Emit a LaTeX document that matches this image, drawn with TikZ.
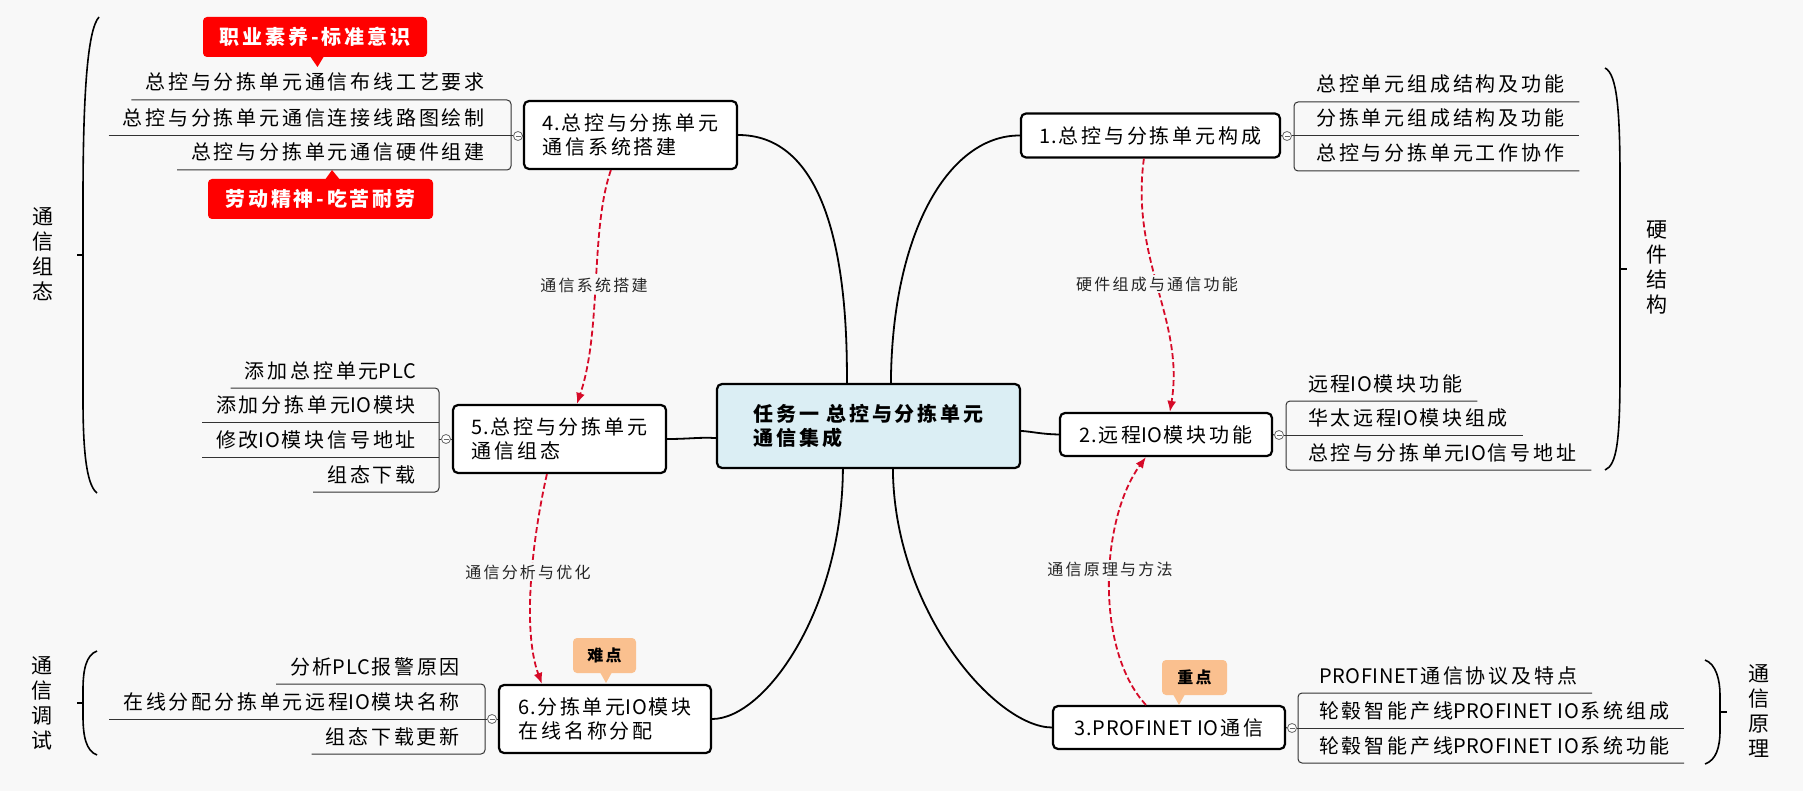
\documentclass[tikz,border=0pt]{standalone}
\usepackage{fontspec}
\setmainfont[LetterSpace=14]{Noto Sans CJK SC}
\newfontfamily\latn[LetterSpace=3]{Noto Sans CJK SC}
\newcommand{\lat}[1]{{\latn #1}\hspace{1.5pt}}
\usetikzlibrary{calc,arrows.meta}
\definecolor{bg}{RGB}{248,248,248}
\definecolor{cblue}{RGB}{219,238,244}
\definecolor{peach}{RGB}{250,192,143}
\definecolor{cred}{RGB}{255,0,0}
\definecolor{dred}{RGB}{214,10,40}
\begin{document}
\begin{tikzpicture}[x=1pt,y=-1pt,
 topic/.style={draw=black, line width=2.2pt, rounded corners=5pt, fill=white, align=left, inner sep=0pt, font=\fontsize{20}{24}\selectfont},
 leaf/.style={inner sep=0pt, font=\fontsize{20}{24}\selectfont, text=black},
 sub/.style={draw=black!80, line width=1pt},
 main/.style={draw=black, line width=1.8pt},
 dot/.style={circle, draw=black!60, fill=white, line width=0.8pt, minimum size=9pt, inner sep=0pt,
   path picture={\draw[black!60,line width=0.8pt] ([xshift=2pt]path picture bounding box.west) -- ([xshift=-2pt]path picture bounding box.east);}},
 link/.style={draw=dred, line width=1.8pt, dash pattern=on 6pt off 3pt, -{Latex[length=11pt,width=9pt]}},
 linklab/.style={fill=bg, inner sep=2pt, font=\fontsize{16}{18}\selectfont, text=black!85},
 brk/.style={draw=black, line width=1.6pt},
 vlab/.style={align=center, inner sep=0pt, font=\fontsize{21}{25}\selectfont},
 redtag/.style={fill=cred, rounded corners=4pt, text=white, font=\bfseries\fontsize{20}{24}\selectfont, inner sep=0pt},
 peachtag/.style={fill=peach, rounded corners=4pt, text=black, font=\bfseries\fontsize{16}{18}\selectfont, inner sep=0pt},
]
\useasboundingbox (0,0) rectangle (1803,791);
\fill[bg] (0,0) rectangle (1803,791);

% topics
\node[topic, minimum width=303pt, minimum height=84pt, fill=cblue, font=\bfseries\fontsize{20}{24}\selectfont] (C) at (868.5,426) {任务一 总控与分拣单元\\通信集成};
\node[topic, minimum width=213pt, minimum height=68pt] (N4) at (630.5,135) {\lat{4.}总控与分拣单元\\通信系统搭建};
\node[topic, minimum width=213pt, minimum height=68pt] (N5) at (559.5,439) {\lat{5.}总控与分拣单元\\通信组态};
\node[topic, minimum width=212pt, minimum height=68pt] (N6) at (605,719) {\lat{6.}分拣单元\lat{IO}模块\\在线名称分配};
\node[topic, minimum width=259pt, minimum height=44pt] (N1) at (1150.5,135.5) {\lat{1.}总控与分拣单元构成};
\node[topic, minimum width=212pt, minimum height=43pt] (N2) at (1166,434.5) {\lat{2.}远程\lat{IO}模块功能};
\node[topic, minimum width=232pt, minimum height=43pt] (N3) at (1169,727.5) {\lat{3.PROFINET IO}通信};

% main connectors
\draw[main] (N4.east) .. controls (815,135) and (848,230) .. ($(C.north west)+(131,0)$);
\draw[main] (N1.west) .. controls (950,135) and (892,230) .. ($(C.north west)+(175,0)$);
\draw[main] (N6.east) .. controls (765,719) and (842,610) .. ($(C.south west)+(127,0)$);
\draw[main] (N3.west) .. controls (995,727) and (894,610) .. ($(C.south west)+(177,0)$);
\draw[main] (N5.east) .. controls (690,439) and (700,437) .. ($(C.south west)+(0,-31)$);
\draw[main] (N2.west) .. controls (1040,434) and (1035,432) .. ($(C.north east)+(0,48)$);

% dots
\node[dot] (o4) at (518,136) {};
\node[dot] (o5) at (446,439) {};
\node[dot] (o6) at (492,719) {};
\node[dot] (o1) at (1287,136) {};
\node[dot] (o2) at (1279,435) {};
\node[dot] (o3) at (1292,728) {};

% N4 children
\node[leaf, anchor=base east] (a1) at (485,90) {总控与分拣单元通信布线工艺要求};
\node[leaf, anchor=base east] (a2) at (485,126) {总控与分拣单元通信连接线路图绘制};
\node[leaf, anchor=base east] (a3) at (485,160) {总控与分拣单元通信硬件组建};
\draw[sub, rounded corners=4pt] ($(a1.base west)+(-14,10)$) -- (511,100) -- (511,170) -- ($(a3.base west)+(-14,10)$);
\draw[sub] ($(a2.base west)+(-14,10)$) -- (o4.west);
\draw[sub] (o4.east) -- (N4.west);

% N5 children
\node[leaf, anchor=base east] (b1) at (416,378) {添加总控单元\lat{PLC}};
\node[leaf, anchor=base east] (b2) at (416,412) {添加分拣单元\lat{IO}模块};
\node[leaf, anchor=base east] (b3) at (416,447) {修改\lat{IO}模块信号地址};
\node[leaf, anchor=base east] (b4) at (416,482) {组态下载};
\draw[sub, rounded corners=4pt] ($(b1.base west)+(-14,10)$) -- (439,388) -- (439,492) -- ($(b4.base west)+(-14,10)$);
\draw[sub] ($(b2.base west)+(-14,10)$) -- (439,422);
\draw[sub] ($(b3.base west)+(-14,10)$) -- (439,457);
\draw[sub] (439,439) -- (o5.west);
\draw[sub] (o5.east) -- (N5.west);

% N6 children
\node[leaf, anchor=base east] (c1) at (460,674) {分析\lat{PLC}报警原因};
\node[leaf, anchor=base east] (c2) at (460,709) {在线分配分拣单元远程\lat{IO}模块名称};
\node[leaf, anchor=base east] (c3) at (460,744) {组态下载更新};
\draw[sub, rounded corners=4pt] ($(c1.base west)+(-14,10)$) -- (485,684) -- (485,754) -- ($(c3.base west)+(-14,10)$);
\draw[sub] ($(c2.base west)+(-14,10)$) -- (o6.west);
\draw[sub] (o6.east) -- (N6.west);

% N1 children
\node[leaf, anchor=base west] (d1) at (1316,92) {总控单元组成结构及功能};
\node[leaf, anchor=base west] (d2) at (1316,126) {分拣单元组成结构及功能};
\node[leaf, anchor=base west] (d3) at (1316,161) {总控与分拣单元工作协作};
\draw[sub, rounded corners=4pt] ($(d1.base east)+(15,10)$) -- (1294,102) -- (1294,171) -- ($(d3.base east)+(15,10)$);
\draw[sub] (o1.east) -- ($(d2.base east)+(15,10)$);
\draw[sub] (N1.east) -- (o1.west);

% N2 children
\node[leaf, anchor=base west] (e1) at (1308,391) {远程\lat{IO}模块功能};
\node[leaf, anchor=base west] (e2) at (1308,425) {华太远程\lat{IO}模块组成};
\node[leaf, anchor=base west] (e3) at (1308,460) {总控与分拣单元\lat{IO}信号地址};
\draw[sub, rounded corners=4pt] ($(e1.base east)+(15,10)$) -- (1286,401) -- (1286,470) -- ($(e3.base east)+(15,10)$);
\draw[sub] (o2.east) -- ($(e2.base east)+(15,10)$);
\draw[sub] (N2.east) -- (o2.west);

% N3 children
\node[leaf, anchor=base west] (f1) at (1319,683) {\lat{PROFINET}通信协议及特点};
\node[leaf, anchor=base west] (f2) at (1319,718) {轮毂智能产线\lat{PROFINET IO}系统组成};
\node[leaf, anchor=base west] (f3) at (1319,753) {轮毂智能产线\lat{PROFINET IO}系统功能};
\draw[sub, rounded corners=4pt] ($(f1.base east)+(15,10)$) -- (1298,693) -- (1298,763) -- ($(f3.base east)+(15,10)$);
\draw[sub] (o3.east) -- ($(f2.base east)+(15,10)$);
\draw[sub] (N3.east) -- (o3.west);

% brackets
\draw[brk] (99,17) .. controls (87,30) and (83,100) .. (83,200) -- (83,400) .. controls (83,460) and (88,486) .. (97,493);
\draw[brk] (77,255) -- (83,255);
\node[vlab] (L1) at (43,254) {通\\信\\组\\态};
\draw[brk] (97,651) .. controls (86,655) and (83,670) .. (83,690) -- (83,716) .. controls (83,736) and (86,751) .. (97,755);
\draw[brk] (77,703) -- (83,703);
\node[vlab] (L2) at (42,703) {通\\信\\调\\试};
\draw[brk] (1605,68) .. controls (1617,74) and (1620,110) .. (1620,180) -- (1620,370) .. controls (1620,440) and (1617,465) .. (1605,470);
\draw[brk] (1620,269) -- (1627,269);
\node[vlab] (L3) at (1657,267) {硬\\件\\结\\构};
\draw[brk] (1705,660) .. controls (1716,664) and (1720,680) .. (1720,695) -- (1720,730) .. controls (1720,748) and (1716,760) .. (1705,764);
\draw[brk] (1720,712) -- (1727,712);
\node[vlab] (L4) at (1759,711) {通\\信\\原\\理};

% dashed links
\draw[link] ($(N4.south west)+(88,0)$) .. controls (590,230) and (602,330) .. ($(N5.north west)+(125,0)$);
\draw[link] ($(N5.south west)+(95,0)$) .. controls (532,540) and (522,630) .. ($(N6.north west)+(44,0)$);
\draw[link] ($(N1.south west)+(124,0)$) .. controls (1130,260) and (1185,320) .. ($(N2.north west)+(111,0)$);
\draw[link] ($(N3.north west)+(94,0)$) .. controls (1095,650) and (1100,520) .. ($(N2.south west)+(87,0)$);
\node[linklab] (t1) at (594,285) {通信系统搭建};
\node[linklab] (t2) at (528,572) {通信分析与优化};
\node[linklab] (t3) at (1157,284) {硬件组成与通信功能};
\node[linklab] (t4) at (1110,569) {通信原理与方法};

% callouts
\node[redtag, minimum width=224pt, minimum height=40pt] (r1) at (315,37) {职业素养-标准意识};
\fill[cred] ($(r1.south)+(-5,-1)$) -- (317.5,67) -- ($(r1.south)+(9,-1)$) -- cycle;
\node[redtag, minimum width=225pt, minimum height=40pt] (r2) at (320.5,199) {劳动精神-吃苦耐劳};
\fill[cred] ($(r2.north)+(4.5,1)$) -- (332,170) -- ($(r2.north)+(19.5,1)$) -- cycle;
\node[peachtag, minimum width=63pt, minimum height=35pt] (p6) at (604.5,655.5) {难点};
\fill[peach] ($(p6.south)+(-4.5,-1)$) -- (606,683) -- ($(p6.south)+(7.5,-1)$) -- cycle;
\node[peachtag, minimum width=65pt, minimum height=35pt] (p3) at (1194.5,677.5) {重点};
\fill[peach] ($(p3.south)+(-21.5,-1)$) -- (1179,705) -- ($(p3.south)+(-9.5,-1)$) -- cycle;
\end{tikzpicture}
\end{document}
